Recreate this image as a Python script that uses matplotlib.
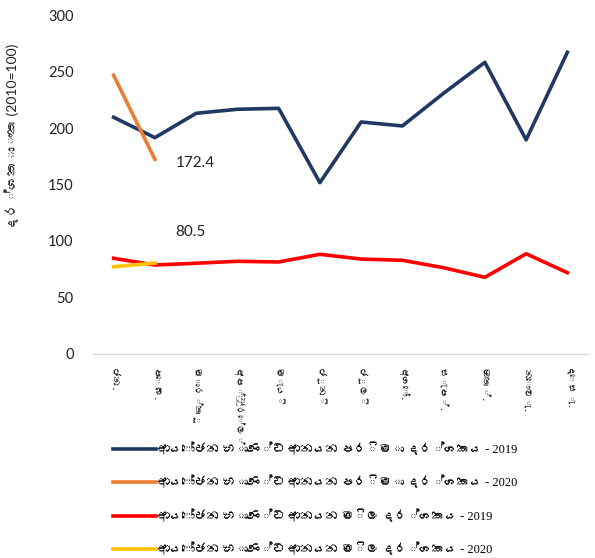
import numpy as np
import matplotlib
matplotlib.use('Agg')
import matplotlib.pyplot as plt
from matplotlib import font_manager

# data
months = ['ජන.', 'පෙබ.', 'මාර්තු', 'අප්‍රේල්', 'මැයි', 'ජූනි', 'ජූලි',
          'අගෝ.', 'සැප්.', 'ඔක්.', 'නොවැ.', 'දෙසැ.']
vol_2019 = [209.7, 191.6, 213.2, 216.8, 217.6, 151.7, 205.5, 202.0, 231.0, 258.4, 189.7, 267.3]
vol_2020 = [246.9, 172.4]
price_2019 = [84.7, 78.7, 80.3, 82.0, 81.4, 88.2, 84.0, 82.9, 76.3, 67.8, 88.7, 71.9]
price_2020 = [77.2, 80.5]
labels = ['ආයෝජන භාණ්ඩ ආනයන පරිමා දර්ශකය - 2019',
          'ආයෝජන භාණ්ඩ ආනයන පරිමා දර්ශකය - 2020',
          'ආයෝජන භාණ්ඩ ආනයන මිල දර්ශකය - 2019',
          'ආයෝජන භාණ්ඩ ආනයන මිල දර්ශකය - 2020']
colors = ['#203864', '#ed7d31', '#ff0000', '#ffc000']
ylab = 'දර්ශකාංක (2010=100)'


def find_sinhala():
    # look for any installed font that has Sinhala glyphs
    try:
        from fontTools.ttLib import TTFont
    except ImportError:
        return None
    for path in font_manager.findSystemFonts():
        try:
            f = TTFont(path, fontNumber=0, lazy=True)
            cmap = f.getBestCmap()
            if cmap and 0x0DA2 in cmap:
                return font_manager.FontProperties(fname=path).get_name()
        except Exception:
            pass
    return None


sin = find_sinhala()
extra = [sin] if sin else []
fam = extra + ['Lato', 'DejaVu Sans']
fam_num = ['Lato'] + extra + ['DejaVu Sans']
fam_leg = ['Liberation Serif'] + extra + ['DejaVu Serif']
plt.rcParams['font.family'] = fam

fig = plt.figure(figsize=(5.95, 5.58), dpi=100)
ax = fig.add_axes([93 / 595, 1 - 353.8 / 558, 495 / 595, 338.4 / 558])

x = np.arange(len(months))
ax.plot(x, vol_2019, color=colors[0], lw=2.6, label=labels[0])
ax.plot(x[:len(vol_2020)], vol_2020, color=colors[1], lw=2.6, label=labels[1])
ax.plot(x, price_2019, color=colors[2], lw=2.6, label=labels[2])
ax.plot(x[:len(price_2020)], price_2020, color=colors[3], lw=2.6, label=labels[3])

# data labels for the latest 2020 points
ax.text(x[1] + 0.5, vol_2020[1] - 3, f'{vol_2020[1]:.1f}', fontsize=11, color='#222222',
        family=['Lato', 'DejaVu Sans'], va='center')
ax.text(x[1] + 0.5, price_2020[1] + 27.7, f'{price_2020[1]:.1f}', fontsize=11, color='#222222',
        family=['Lato', 'DejaVu Sans'], va='center')

ax.set_xlim(-0.5, len(months) - 0.5)
ax.set_ylim(0, 300)
ax.set_yticks(range(0, 301, 50))
ax.set_yticklabels([str(v) for v in range(0, 301, 50)], family=['Lato', 'DejaVu Sans'], fontsize=10.5)
ax.set_xticks(x)
ax.set_xticklabels(months, rotation=270, fontsize=7, va='top', ha='center')
ax.tick_params(axis='both', length=0, colors='#222222')
ax.tick_params(axis='x', pad=10)
ax.tick_params(axis='y', pad=14)
for s in ['top', 'right', 'left']:
    ax.spines[s].set_visible(False)
ax.spines['bottom'].set_color('#d9d9d9')
ax.spines['bottom'].set_linewidth(1.0)
ax.set_ylabel(ylab, fontsize=10, color='#222222', family=fam_num)
ax.yaxis.set_label_coords(-0.15, 0.64)

fig.legend(loc='upper left', bbox_to_anchor=(108 / 595, 1 - 438 / 558), frameon=False,
           prop={'family': fam_leg, 'size': 9}, handlelength=3.4, handletextpad=0.15,
           labelspacing=1.6, borderaxespad=0)

fig.savefig('out.png', dpi=100)
